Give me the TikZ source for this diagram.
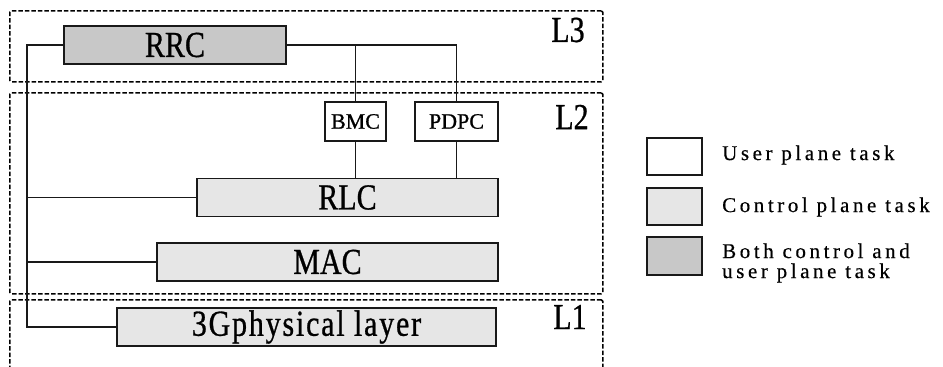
\documentclass[tikz,border=0pt]{standalone}
\usepackage{graphicx}
\usepackage{fontspec}
\setmainfont{Liberation Serif}
\newfontfamily\labelfont[FakeBold=0.8]{Liberation Serif}
\newfontfamily\legendfont[LetterSpace=17,FakeBold=0.4]{Liberation Serif}
\newfontfamily\spacedfont[LetterSpace=6,FakeBold=0.8]{Liberation Serif}
\newcommand\tallword[1]{\scalebox{1}[1.22]{#1}}
\definecolor{bothgray}{HTML}{C8C8C8}
\definecolor{ctrlgray}{HTML}{E6E6E6}
\begin{document}
\begin{tikzpicture}[x=1pt,y=-1pt,
  layer/.style={draw=black,line width=1.5pt,dash pattern=on 4.5pt off 2pt,
    anchor=north west,inner sep=0pt,rounded corners=1.5pt},
  task/.style={draw=black!90,line width=1.8pt,inner sep=0pt,
    minimum height=38pt},
  both/.style={task,fill=bothgray},
  ctrl/.style={task,fill=ctrlgray},
  user/.style={task,fill=white,minimum height=39pt},
  link/.style={draw=black!90,line width=1.8pt},
  biglabel/.style={font=\fontsize{30}{30}\selectfont\labelfont},
  smalllabel/.style={font=\fontsize{22}{22}\selectfont\labelfont},
  legtext/.style={anchor=west,align=left,inner sep=0pt,
    font=\fontsize{21}{20}\selectfont\legendfont}]
\useasboundingbox (0,0) rectangle (943,367);

% protocol layer frames
\node[layer,minimum width=593pt,minimum height=71pt] (l3) at (9,10) {};
\node[layer,minimum width=593pt,minimum height=201pt] (l2) at (9,92) {};
\node[layer,minimum width=593pt,minimum height=90pt] (l1) at (9,299) {};
\node[biglabel] (l3lab) at (568,30) {\tallword{L3}};
\node[biglabel] (l2lab) at (572,117) {\tallword{L2}};
\node[biglabel] (l1lab) at (570,317) {\tallword{L1}};

% protocol entities
\node[both,minimum width=222pt,biglabel] (rrc) at (175,45) {\tallword{RRC}};
\node[user,minimum width=61pt,smalllabel] (bmc) at (355.5,121.5) {BMC};
\node[user,minimum width=83pt,smalllabel] (pdpc) at (456.5,121.5) {PDPC};
\node[ctrl,minimum width=301pt,biglabel] (rlc) at (347.5,197.5) {\tallword{RLC}};
\node[ctrl,minimum width=341pt,biglabel] (mac) at (327.5,262) {\tallword{MAC}};
\node[ctrl,minimum width=379pt,font=\fontsize{30}{30}\selectfont\spacedfont] (phy) at (306.5,327) {\tallword{3Gphysical layer}};

% control connections from RRC
\coordinate (spine) at (27,0);
\draw[link] (rrc.west) -- (rrc.west -| spine) -- (phy.west -| spine) -- (phy.west);
\draw[link] (rlc.west -| spine) -- (rlc.west);
\draw[link] (mac.west -| spine) -- (mac.west);
\draw[link] (rrc.east) -| (pdpc.north);
\draw[link] (bmc.north |- rrc.east) -- (bmc.north);
\draw[link] (bmc.south) -- (bmc.south |- rlc.north);
\draw[link] (pdpc.south) -- (pdpc.south |- rlc.north);

% legend
\node[user,minimum width=55pt,minimum height=37pt] (kuser) at (674.5,156.5) {};
\node[ctrl,minimum width=55pt,minimum height=37pt] (kctrl) at (674.5,206.5) {};
\node[both,minimum width=55pt,minimum height=38pt] (kboth) at (674.5,256) {};
\node[legtext] (tuser) at (722,155) {User plane task};
\node[legtext] (tctrl) at (722,207) {Control plane task};
\node[legtext] (tboth) at (722,263) {Both control and\\user plane task};
\end{tikzpicture}
\end{document}
